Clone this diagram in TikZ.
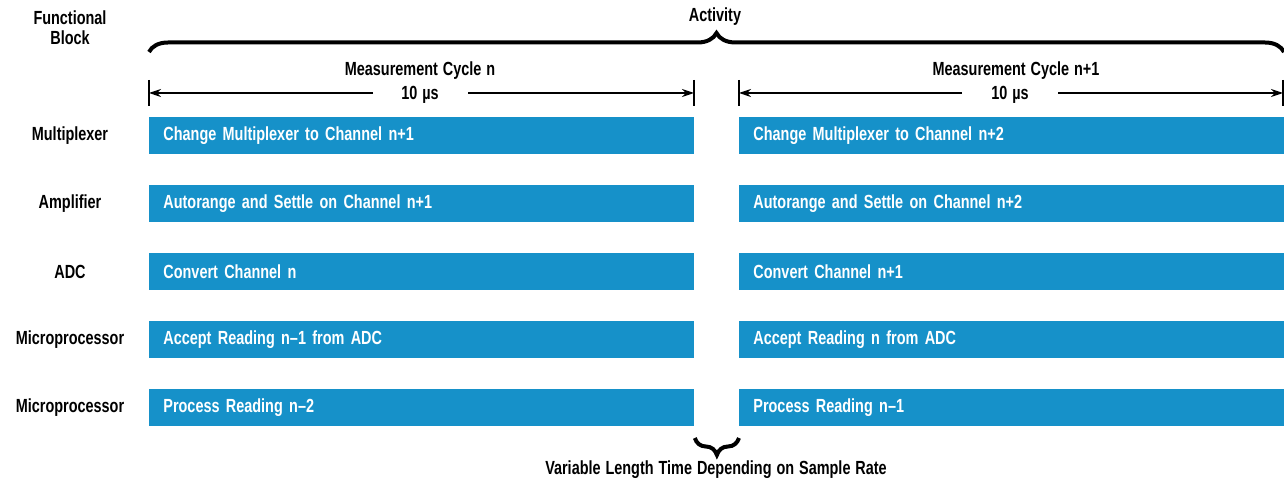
\documentclass[tikz,border=0pt]{standalone}
\usepackage{fontspec}
\setmainfont{Liberation Sans}[FakeStretch=0.76]
\usetikzlibrary{arrows.meta,decorations.pathreplacing}

\definecolor{barblue}{RGB}{22,145,201}
\newcommand\chartfont{\fontsize{9.5}{11}\bfseries\spaceskip=0.26em plus 0.1em minus 0.05em\relax}

\tikzset{
  bar/.style={rectangle, fill=barblue, text=white, anchor=north west,
    minimum width=272.5pt, minimum height=18.5pt, text width=258.5pt,
    inner xsep=7pt, inner ysep=0pt, align=left, font=\chartfont},
  blocklabel/.style={font=\chartfont, align=center},
  tick/.style={line width=0.6pt},
  dim/.style={line width=0.6pt, -{Stealth[length=6pt,width=4pt]}},
  bigbrace/.style={decorate, line width=2pt}
}

\begin{document}
\begin{tikzpicture}[x=0.5pt,y=-0.5pt]
\useasboundingbox (0,0) rectangle (1284,485);

% headings
\node[blocklabel] (fb) at (70,28) {Functional\\[-1pt]Block};
\node[blocklabel] (act) at (715,17) {Activity};
\draw[bigbrace, decoration={brace, amplitude=9.5pt}] (149,52) -- (1284,52);

% first cycle
\node[blocklabel] (cycA) at (420,71) {Measurement Cycle n};
\node[blocklabel] (durA) at (420,95) {10 µs};
\coordinate (tA1) at (149,93);
\coordinate (tA2) at (694,93);
\draw[tick] (149,80) -- (149,106);
\draw[tick] (694,80) -- (694,106);
\draw[dim] (373,93) -- (tA1);
\draw[dim] (468,93) -- (tA2);

% second cycle
\node[blocklabel] (cycB) at (1016,71) {Measurement Cycle n+1};
\node[blocklabel] (durB) at (1010,95) {10 µs};
\coordinate (tB1) at (739,93);
\coordinate (tB2) at (1283,93);
\draw[tick] (739,80) -- (739,106);
\draw[tick] (1283,80) -- (1283,106);
\draw[dim] (962,93) -- (tB1);
\draw[dim] (1058,93) -- (tB2);

% functional blocks, col 1
\node[blocklabel] (mux) at (70,136) {Multiplexer};
\node[blocklabel] (amp) at (70,204) {Amplifier};
\node[blocklabel] (adc) at (70,272) {ADC};
\node[blocklabel] (upa) at (70,340) {Microprocessor};
\node[blocklabel] (upb) at (70,408) {Microprocessor};

% activity bars, cycle n
\node[bar] (muxA) at (149,117) {Change Multiplexer to Channel n+1};
\node[bar] (ampA) at (149,185) {Autorange and Settle on Channel n+1};
\node[bar] (adcA) at (149,253) {Convert Channel n};
\node[bar] (upaA) at (149,321) {Accept Reading n--1 from ADC};
\node[bar] (upbA) at (149,389) {Process Reading n--2};

% activity bars, cycle n+1
\node[bar] (muxB) at (739,117) {Change Multiplexer to Channel n+2};
\node[bar] (ampB) at (739,185) {Autorange and Settle on Channel n+2};
\node[bar] (adcB) at (739,253) {Convert Channel n+1};
\node[bar] (upaB) at (739,321) {Accept Reading n from ADC};
\node[bar] (upbB) at (739,389) {Process Reading n--1};

% gap between cycles
\draw[bigbrace, decoration={brace, amplitude=8.5pt}] (upbB.south west |- 0,438) -- (upbA.south east |- 0,438);
\node[blocklabel] (gap) at (716,470) {Variable Length Time Depending on Sample Rate};
\end{tikzpicture}
\end{document}
